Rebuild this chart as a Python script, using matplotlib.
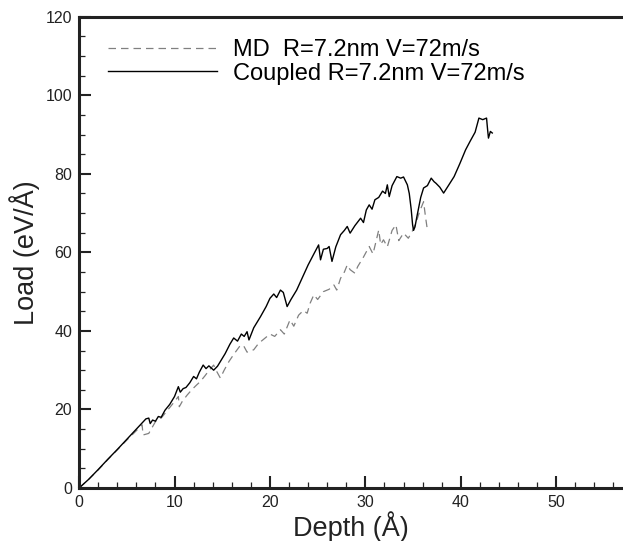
import matplotlib
matplotlib.use('Agg')
import matplotlib.pyplot as plt
from matplotlib.ticker import MultipleLocator

plt.rcParams['font.family'] = ['Liberation Sans', 'DejaVu Sans']

# Coupled R=7.2nm V=72m/s
coupled_depth = [0, 1, 2, 3, 4, 5, 6, 7, 7.3, 7.45, 7.7, 8.0, 8.3, 8.6, 9.0, 9.5,
                 10.0, 10.4, 10.6, 10.9, 11.2, 11.6, 12.0, 12.3, 12.6, 13.0, 13.3,
                 13.6, 14.1, 14.5, 14.8, 15.3, 15.8, 16.2, 16.6, 17.0, 17.3, 17.6,
                 17.8, 18.3, 19.0, 19.6, 20.0, 20.4, 20.7, 21.1, 21.4, 21.8, 22.2,
                 22.8, 23.4, 24.0, 24.6, 25.1, 25.3, 25.6, 26.0, 26.2, 26.5, 26.9,
                 27.4, 27.8, 28.1, 28.4, 28.9, 29.5, 29.8, 30.1, 30.4, 30.7, 31.0,
                 31.4, 31.8, 32.1, 32.3, 32.5, 32.8, 33.3, 33.7, 34.0, 34.4, 34.6,
                 34.8, 34.95, 35.05, 35.2, 35.4, 35.8, 36.1, 36.5, 36.9, 37.2, 37.4,
                 37.8, 38.2, 38.7, 39.3, 39.9, 40.5, 41.0, 41.5, 41.9, 42.3, 42.7,
                 42.8, 42.9, 43.1, 43.3]
coupled_load = [0, 2.2, 4.7, 7.3, 9.8, 12.4, 15.0, 17.6, 17.8, 16.4, 17.3, 17.0,
                18.2, 18.0, 19.8, 21.3, 23.3, 25.8, 24.4, 25.3, 25.6, 26.8, 28.4,
                27.8, 29.5, 31.3, 30.4, 31.1, 30.0, 31.0, 32.2, 34.2, 36.6, 38.2,
                37.4, 39.2, 38.6, 39.8, 37.7, 40.8, 43.6, 46.2, 48.3, 49.4, 48.5,
                50.4, 49.8, 46.2, 48.0, 50.4, 53.6, 56.8, 59.6, 61.9, 58.1, 60.8,
                61.0, 61.5, 57.7, 61.4, 64.5, 65.6, 66.6, 64.9, 66.8, 68.7, 67.6,
                70.8, 72.1, 71.0, 73.4, 74.0, 75.6, 75.0, 77.2, 74.2, 77.0, 79.3,
                78.9, 79.2, 77.2, 75.0, 71.0, 67.0, 65.6, 66.5, 69.1, 74.0, 76.4,
                77.0, 78.9, 78.0, 77.6, 76.6, 75.1, 77.0, 79.3, 82.6, 86.1, 88.4,
                90.6, 94.2, 93.8, 94.2, 91.5, 89.1, 90.8, 90.4]

# MD R=7.2nm V=72m/s
md_depth = [0, 1, 2, 3, 4, 5, 6, 6.6, 6.7, 7.3, 7.6, 8.1, 8.6, 9.2, 9.8, 10.4,
            10.5, 10.8, 11.3, 11.8, 12.3, 12.7, 13.2, 13.6, 14.1, 14.3, 14.8,
            15.2, 15.7, 16.2, 16.8, 17.2, 17.6, 18.3, 18.8, 19.4, 20.0, 20.5,
            21.1, 21.5, 22.1, 22.5, 23.0, 23.5, 23.9, 24.2, 24.6, 25.0, 25.6,
            26.2, 26.7, 27.0, 27.4, 27.8, 28.1, 28.4, 28.9, 29.2, 29.8, 30.4,
            30.8, 31.4, 31.6, 31.9, 32.3, 32.8, 33.2, 33.5, 34.0, 34.5, 34.9,
            35.3, 35.7, 36.1, 36.3, 36.5]
md_load = [0, 2.2, 4.6, 7.2, 9.7, 12.2, 14.6, 16.1, 13.5, 13.9, 15.2, 17.3, 17.8,
           19.6, 21.4, 23.3, 20.7, 22.0, 23.6, 25.0, 26.2, 27.1, 28.6, 29.9, 31.3,
           30.2, 28.0, 30.0, 32.2, 34.0, 36.0, 36.4, 34.6, 35.2, 36.8, 38.0, 39.2,
           38.6, 40.3, 39.2, 42.8, 41.2, 44.0, 45.2, 44.5, 47.0, 49.2, 48.0, 50.0,
           50.6, 51.7, 50.4, 53.4, 55.0, 56.8, 55.6, 54.7, 56.4, 58.8, 61.5, 59.6,
           65.7, 62.0, 63.2, 61.4, 65.6, 67.0, 63.0, 64.9, 63.6, 65.3, 67.5, 70.5,
           72.9, 69.1, 65.7]

fig = plt.figure(figsize=(6.23, 5.41), dpi=100)
ax = fig.add_axes([0.127, 0.098, 0.873, 0.871])

ax.plot(md_depth, md_load, color='#808080', lw=0.9, dashes=(6, 4),
        label='MD  R=7.2nm V=72m/s')
ax.plot(coupled_depth, coupled_load, color='black', lw=1.0,
        label='Coupled R=7.2nm V=72m/s')

ax.set_xlim(0, 57)
ax.set_ylim(0, 120)
ax.xaxis.set_major_locator(MultipleLocator(10))
ax.xaxis.set_minor_locator(MultipleLocator(2))
ax.yaxis.set_major_locator(MultipleLocator(20))
ax.yaxis.set_minor_locator(MultipleLocator(5))
ax.tick_params(which='major', direction='in', length=8.5, width=1.5,
               labelsize=11.5, pad=5, colors='#222222')
ax.tick_params(which='minor', direction='in', length=4.3, width=0.9,
               colors='#222222')

for side in ['left', 'bottom', 'top']:
    ax.spines[side].set_linewidth(2.2)
    ax.spines[side].set_color('#222222')
ax.spines['right'].set_visible(False)

ax.set_xlabel('Depth (Å)', fontsize=19.5, labelpad=1, color='#222222')
ax.set_ylabel('Load (eV/Å)', fontsize=19.5, labelpad=4, color='#222222')

ax.legend(loc='upper left', bbox_to_anchor=(0.053, 0.952), frameon=False,
          fontsize=17, handlelength=4.6, handletextpad=0.7, labelspacing=0.05,
          borderaxespad=0, borderpad=0)

fig.savefig('out.png', dpi=100)
